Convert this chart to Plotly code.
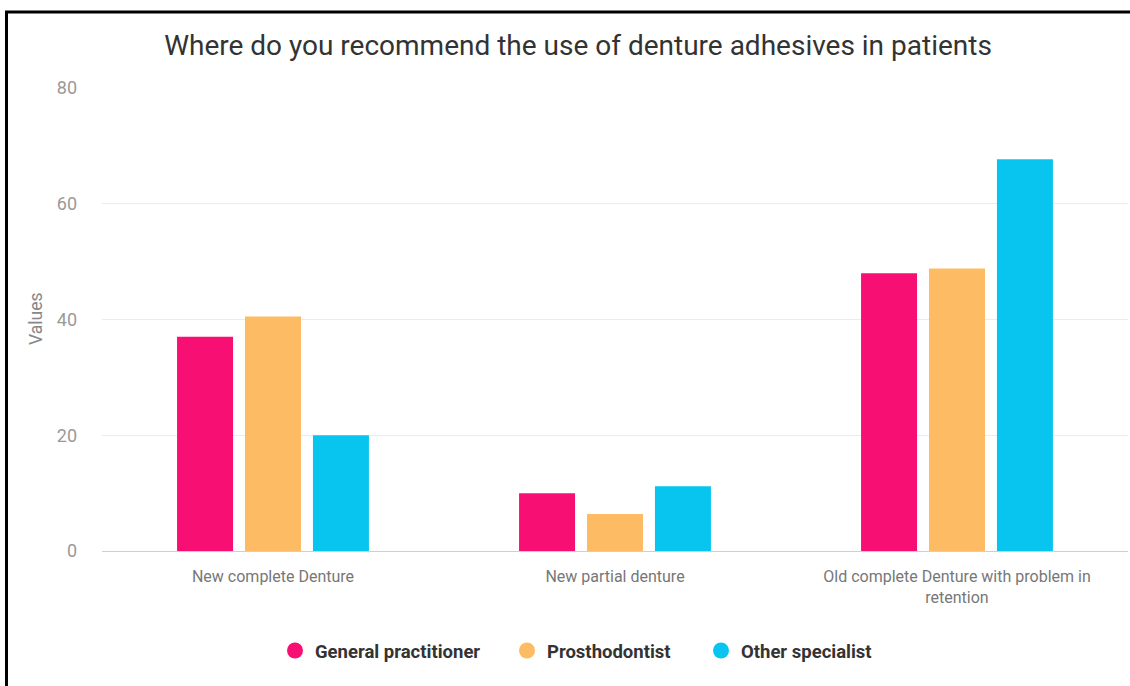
import plotly.graph_objects as go

W, H = 1130, 686

categories = [
    "New complete Denture",
    "New partial denture",
    "Old complete Denture with problem in<br>retention",
]
series_names = ["General practitioner", "Prosthodontist", "Other specialist"]
general_practitioner = [37, 10, 48]
prosthodontist = [40.5, 6.4, 48.8]
other_specialist = [20, 11.2, 67.7]
series_values = [general_practitioner, prosthodontist, other_specialist]
colors = ["#f70f73", "#fdbb64", "#08c5f0"]
y_ticks = [0, 20, 40, 60, 80]

# legend entry anchor (circle centre, px) for each series
legend_ids = ["legend", "legend2", "legend3"]
legend_circle_x = [295, 527, 721]
legend_y = 651

fig = go.Figure()

for name, vals, col in zip(series_names, series_values, colors):
    fig.add_trace(go.Bar(
        x=categories, y=vals, name=name,
        marker=dict(color=col, line=dict(width=0)),
        showlegend=False,
    ))

# circular legend markers, one legend per series
for name, col, lid in zip(series_names, colors, legend_ids):
    fig.add_trace(go.Scatter(
        x=[None], y=[None], mode="markers", name=name,
        marker=dict(symbol="circle", size=18, color=col),
        legend=lid,
    ))

# plot area placement in pixels
x0, x1 = 102, 1128
y_top, y_bot = 88, 551

legend_font = dict(family="Roboto, sans-serif", size=18.5, color="#333", weight="bold")
legend_layouts = {}
for lid, cx in zip(legend_ids, legend_circle_x):
    legend_layouts[lid] = dict(
        orientation="h",
        x=(cx - 20) / W, xanchor="left",
        y=1 - legend_y / H, yanchor="middle",
        font=legend_font,
        bgcolor="rgba(0,0,0,0)",
        borderwidth=0,
    )

fig.update_layout(
    width=W, height=H,
    margin=dict(l=0, r=0, t=0, b=0, autoexpand=False),
    paper_bgcolor="white",
    plot_bgcolor="white",
    font=dict(family="Roboto, sans-serif", color="#888"),
    barmode="group",
    bargap=0.404,
    bargroupgap=0.176,
    title=dict(
        text="Where do you recommend the use of denture adhesives in patients",
        x=578 / W, y=1 - 45 / H, xanchor="center", yanchor="middle",
        xref="paper", yref="paper",
        font=dict(family="Roboto, sans-serif", size=28, color="#333"),
    ),
    xaxis=dict(
        domain=[x0 / W, x1 / W],
        range=[-0.5, 2.5],
        automargin=False,
        showgrid=False,
        showline=False,
        zeroline=False,
        ticks="",
        tickfont=dict(size=16, color="#777"),
        ticklabelstandoff=14,
    ),
    yaxis=dict(
        domain=[1 - y_bot / H, 1 - y_top / H],
        range=[0, 80],
        automargin=False,
        tickvals=y_ticks,
        showgrid=True,
        gridcolor="#ececec",
        gridwidth=1,
        zeroline=True,
        zerolinecolor="#cfcfcf",
        zerolinewidth=1,
        showline=False,
        ticks="",
        tickfont=dict(size=18, color="#999"),
        ticklabelstandoff=24,
    ),
    annotations=[
        dict(
            text="Values", textangle=-90,
            x=36 / W, y=1 - 319 / H, xref="paper", yref="paper",
            xanchor="center", yanchor="middle", showarrow=False,
            font=dict(size=17.5, color="#888"),
        )
    ],
    shapes=[
        # frame lines along the top and left edges
        dict(type="line", xref="paper", yref="paper",
             x0=5 / W, x1=1.0, y0=1 - 12 / H, y1=1 - 12 / H,
             line=dict(color="black", width=3)),
        dict(type="line", xref="paper", yref="paper",
             x0=6.5 / W, x1=6.5 / W, y0=0, y1=1 - 11 / H,
             line=dict(color="black", width=3)),
    ],
    **legend_layouts,
)

fig.write_html("out.html")
